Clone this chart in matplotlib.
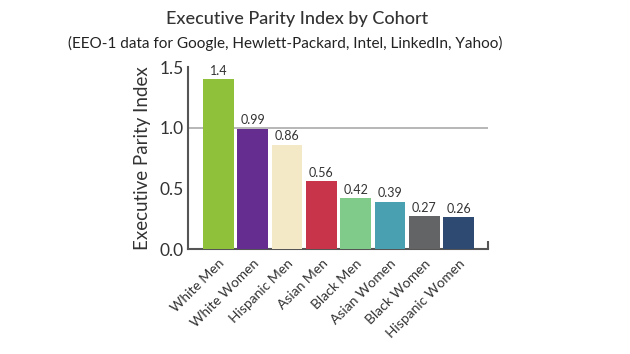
import matplotlib
matplotlib.use("Agg")
import matplotlib.pyplot as plt
from matplotlib.ticker import FixedLocator

plt.rcParams['font.family'] = ['Lato', 'DejaVu Sans']

categories = ["White Men", "White Women", "Hispanic Men", "Asian Men",
              "Black Men", "Asian Women", "Black Women", "Hispanic Women"]
values = [1.40, 0.99, 0.86, 0.56, 0.42, 0.39, 0.27, 0.26]
value_labels = ["1.4", "0.99", "0.86", "0.56", "0.42", "0.39", "0.27", "0.26"]
colors = ["#8fc23a", "#662d91", "#f3e9c6", "#c8344a",
          "#80ca8a", "#48a0b1", "#636466", "#2f4a72"]
yticks = [0.0, 0.5, 1.0, 1.5]
ytick_labels = ["0.0", "0.5", "1.0", "1.5"]

fig = plt.figure(figsize=(6.3, 3.54), dpi=100)
ax = fig.add_axes([0.298, 0.2966, 0.477, 0.5141])

x = list(range(len(categories)))
ax.bar(x, values, width=0.9, color=colors, edgecolor="none", zorder=3)
ax.axhline(1.0, color="#aaaaaa", lw=1.2, zorder=2)

for xi, v, lab in zip(x, values, value_labels):
    ax.text(xi, v + 0.02, lab, ha="center", va="bottom", fontsize=9, color="#333333")

ax.set_xlim(-0.89, 7.86)
ax.set_ylim(0, 1.5)
ax.set_yticks(yticks)
ax.set_yticklabels(ytick_labels, fontsize=12.5, color="#333333")
ax.tick_params(axis="y", length=0, pad=3)
ax.set_xticks(x)
ax.set_xticklabels(categories, rotation=45, ha="right", rotation_mode="anchor",
                   fontsize=10, color="#333333")
ax.tick_params(axis="x", length=0, pad=6)

# end caps
ax.yaxis.set_minor_locator(FixedLocator([1.5]))
ax.tick_params(axis="y", which="minor", direction="in", length=9, width=1.5, color="#555555")
ax.xaxis.set_minor_locator(FixedLocator([7.86]))
ax.tick_params(axis="x", which="minor", direction="in", length=6, width=1.5, color="#555555")

for s in ["top", "right"]:
    ax.spines[s].set_visible(False)
for s in ["left", "bottom"]:
    ax.spines[s].set_color("#555555")
    ax.spines[s].set_linewidth(1.5)

ax.set_ylabel("Executive Parity Index", fontsize=13.5, color="#333333", labelpad=6)

fig.text(0.471, 0.945, "Executive Parity Index by Cohort", ha="center", va="center",
         fontsize=13, color="#333333", fontweight="medium")
fig.text(0.452, 0.877, "(EEO-1 data for Google, Hewlett-Packard, Intel, LinkedIn, Yahoo)",
         ha="center", va="center", fontsize=11, color="#222222")

fig.savefig("out.png", dpi=100)
